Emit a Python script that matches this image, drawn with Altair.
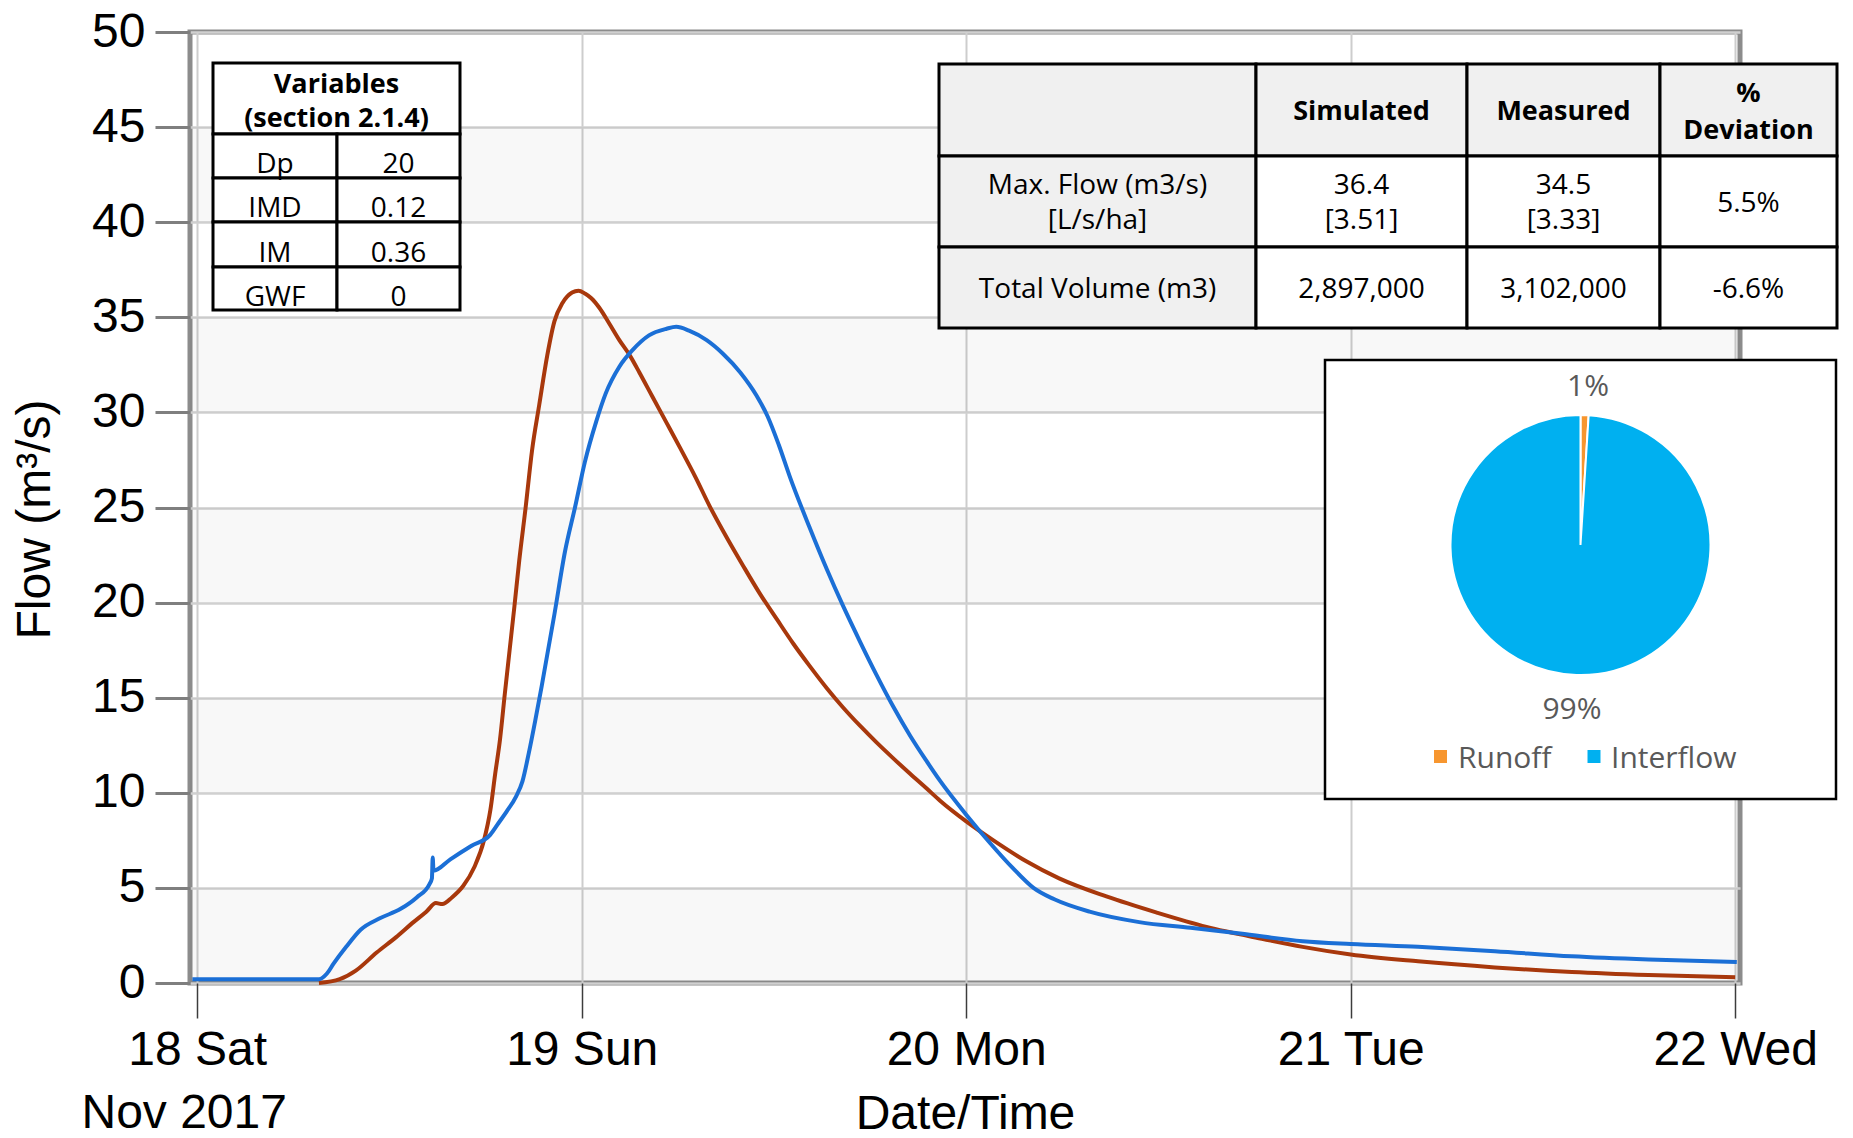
import altair as alt
import pandas as pd

# ---------------- data ----------------
# hours after 2017-11-18 00:00
sim_hours = [7.6, 8.9, 9.9, 11.2, 12.4, 13.5, 14.3, 14.9, 15.3, 15.9, 16.6, 17.3, 17.9, 18.3, 18.6,
             18.9, 19.2, 19.5, 19.8, 20.1, 20.5, 20.9, 21.35, 21.85, 22.3, 22.8, 23.4, 23.8, 24.2, 24.6,
             25.1, 25.7, 26.35, 27.0, 27.6, 28.4, 29.3, 30.1, 31.1, 32.0, 33.0, 34.1, 35.1, 36.2, 37.2,
             38.2, 39.3, 40.3, 41.4, 42.4, 43.4, 44.5, 45.5, 46.35, 48.0, 49.7, 51.75, 53.8, 56.75, 59.9,
             63.0, 66.6, 69.0, 72.0, 76.2, 81.0, 85.8, 90.6, 96.0]
sim_flow = [0.0, 0.2, 0.65, 1.6, 2.4, 3.2, 3.75, 4.2, 4.15, 4.5, 5.1, 6.1, 7.5, 9.1, 11.0,
            12.8, 15.2, 17.5, 19.8, 22.2, 25.0, 28.0, 30.4, 33.0, 34.8, 35.75, 36.3, 36.4, 36.25, 36.0,
            35.5, 34.7, 33.8, 33.0, 32.1, 30.85, 29.45, 28.2, 26.6, 25.05, 23.5, 21.9, 20.5, 19.1, 17.85,
            16.7, 15.5, 14.5, 13.5, 12.65, 11.85, 11.0, 10.25, 9.6, 8.5, 7.5, 6.4, 5.5, 4.55, 3.7,
            2.95, 2.3, 1.9, 1.5, 1.14, 0.82, 0.58, 0.42, 0.3]
meas_hours = [-0.3, 7.6, 8.1, 8.5, 9.3, 10.2, 11.4, 12.7, 13.7, 14.5, 14.65, 14.7, 14.75, 15.8, 17.1,
              18.3, 18.8, 19.3, 19.9, 20.3, 20.7, 21.1, 21.5, 22.3, 22.96, 23.58, 24.2, 24.9, 25.5, 26.35,
              27.2, 28.2, 29.3, 29.9, 30.7, 31.8, 32.8, 33.9, 34.9, 35.6, 36.3, 37.0, 38.2, 39.3, 40.3,
              41.4, 42.4, 43.4, 44.5, 45.5, 46.35, 48.0, 49.5, 50.9, 52.2, 53.5, 55.7, 58.8, 62.0, 65.1,
              69.0, 72.0, 76.2, 81.0, 85.8, 90.6, 96.1]
meas_flow = [0.2, 0.2, 0.5, 1.0, 1.9, 2.8, 3.4, 3.9, 4.5, 5.2, 5.5, 6.6, 5.9, 6.5, 7.2,
             7.8, 8.4, 9.0, 9.8, 10.6, 12.1, 13.8, 15.6, 19.4, 22.7, 25.0, 27.4, 29.5, 31.0, 32.4,
             33.3, 34.05, 34.4, 34.5, 34.3, 33.8, 33.1, 32.1, 30.9, 29.8, 28.3, 26.6, 24.0, 21.75, 19.85,
             17.9, 16.2, 14.6, 13.0, 11.7, 10.65, 8.85, 7.35, 6.05, 5.0, 4.4, 3.75, 3.2, 2.9, 2.6,
             2.2, 2.05, 1.9, 1.67, 1.4, 1.23, 1.1]

x_tick_days = [18, 19, 20, 21, 22]
y_ticks = [0, 5, 10, 15, 20, 25, 30, 35, 40, 45, 50]
band_lo = [0, 10, 20, 30, 40]
band_hi = [5, 15, 25, 35, 45]
x_sub_label = "Nov 2017"

var_header = ["Variables", "(section 2.1.4)"]
var_names = ["Dp", "IMD", "IM", "GWF"]
var_values = ["20", "0.12", "0.36", "0"]

stat_header = [["Simulated"], ["Measured"], ["%", "Deviation"]]
stat_rows = [["Max. Flow (m3/s)", "[L/s/ha]"], ["Total Volume (m3)"]]
stat_sim = [["36.4", "[3.51]"], ["2,897,000"]]
stat_meas = [["34.5", "[3.33]"], ["3,102,000"]]
stat_dev = [["5.5%"], ["-6.6%"]]

pie_cats = ["Runoff", "Interflow"]
pie_vals = [1, 99]
pie_colors = ["#f7962f", "#00b0f0"]

# ---------------- layout ----------------
W, H = 1550, 951
AX_FONT = "Liberation Sans"
TB_FONT = "Open Sans"
RED = "#a8380c"
BLUE = "#1b6fd6"

start = pd.Timestamp("2017-11-18 00:00")


def to_ts(hours):
    return [(start + pd.Timedelta(hours=h)).strftime("%Y-%m-%dT%H:%M:%S") for h in hours]


sim_df = pd.DataFrame({"time": to_ts(sim_hours), "flow": sim_flow})
meas_df = pd.DataFrame({"time": to_ts(meas_hours), "flow": meas_flow})
band_df = pd.DataFrame({"lo": band_lo, "hi": band_hi})
nov_df = pd.DataFrame({"time": to_ts([0]), "label": [x_sub_label]})

x_scale = alt.Scale(domain=[alt.DateTime(year=2017, month=11, date=17, hours=23, minutes=33),
                            alt.DateTime(year=2017, month=11, date=22, hours=0, minutes=18)])
y_scale = alt.Scale(domain=[0, 50], nice=False, zero=False)

x_axis = alt.Axis(
    values=[alt.DateTime(year=2017, month=11, date=d) for d in x_tick_days],
    labelExpr="timeFormat(datum.value, '%d %a')",
    labelFont=AX_FONT, labelFontSize=48, labelColor="black", labelPadding=8,
    labelFlush=False, labelOverlap=False,
    tickSize=35, tickColor="#3c3c3c", tickWidth=1.5, domain=False,
    grid=True, gridColor="#cdcdcd", gridWidth=2,
    title="Date/Time", titleFont=AX_FONT, titleFontSize=48, titleFontWeight="normal",
    titleColor="black", titleBaseline="alphabetic", titleY=145, titleX=W / 2,
)
y_axis = alt.Axis(
    values=y_ticks,
    labelFont=AX_FONT, labelFontSize=48, labelColor="black", labelPadding=10,
    tickSize=35, tickColor="#7f7f7f", tickWidth=3, domain=False,
    grid=True, gridColor="#d0d0d0", gridWidth=2.5,
    title="Flow (m³/s)", titleFont=AX_FONT, titleFontSize=48, titleFontWeight="normal",
    titleColor="black", titleAngle=270, titleBaseline="middle", titleX=-155, titleY=487,
)

bands = alt.Chart(band_df).mark_rect(color="black", opacity=0.028).encode(
    x=alt.value(0), x2=alt.value(W),
    y=alt.Y("lo:Q", scale=y_scale, axis=y_axis), y2="hi:Q",
)
red = alt.Chart(sim_df).mark_line(color=RED, strokeWidth=4, interpolate="monotone").encode(
    x=alt.X("time:T", scale=x_scale, axis=x_axis),
    y=alt.Y("flow:Q", scale=y_scale, axis=y_axis),
)
blue = alt.Chart(meas_df).mark_line(color=BLUE, strokeWidth=4, interpolate="monotone").encode(
    x=alt.X("time:T", scale=x_scale, axis=x_axis),
    y=alt.Y("flow:Q", scale=y_scale, axis=y_axis),
)
nov = alt.Chart(nov_df).mark_text(font=AX_FONT, fontSize=48, color="black", align="center",
                                  baseline="alphabetic", dx=-13).encode(
    x=alt.X("time:T", scale=x_scale, axis=x_axis),
    y=alt.value(H + 145),
    text="label:N",
)
main = alt.layer(bands, red, blue, nov)

# ---------------- overlays (pixel space) ----------------


def px(f):
    return alt.X(f"{f}:Q", scale=None, axis=None)


def py(f):
    return alt.Y(f"{f}:Q", scale=None, axis=None)


cells, bold_txt, reg_txt = [], [], []

# variables table
VX = [23, 147, 270]
VY = [31, 102, 146, 190, 235, 278]
cells.append(dict(x0=VX[0], x1=VX[2], y0=VY[0], y1=VY[1], fill="white"))
for i, line in enumerate(var_header):
    bold_txt.append(dict(x=(VX[0] + VX[2]) / 2, y=53 + 34 * i, text=line))
for r, (n, v) in enumerate(zip(var_names, var_values)):
    y0, y1 = VY[r + 1], VY[r + 2]
    cells.append(dict(x0=VX[0], x1=VX[1], y0=y0, y1=y1, fill="white"))
    cells.append(dict(x0=VX[1], x1=VX[2], y0=y0, y1=y1, fill="white"))
    yc = (y0 + y1) / 2 + 9
    reg_txt.append(dict(x=(VX[0] + VX[1]) / 2, y=yc, text=n))
    reg_txt.append(dict(x=(VX[1] + VX[2]) / 2, y=yc, text=v))

# statistics table
SX = [749, 1066, 1277, 1470, 1647]
SY = [32, 124, 215, 296]
GRAY = "#f0f0f0"
for r in range(3):
    for c in range(4):
        cells.append(dict(x0=SX[c], x1=SX[c + 1], y0=SY[r], y1=SY[r + 1],
                          fill=GRAY if (r == 0 or c == 0) else "white"))
LH = 35
for c, lines in enumerate(stat_header):
    xc = (SX[c + 1] + SX[c + 2]) / 2
    yc = (SY[0] + SY[1]) / 2 + 2
    for i, line in enumerate(lines):
        bold_txt.append(dict(x=xc, y=yc + (i - (len(lines) - 1) / 2) * (LH + 2), text=line))
for r in range(2):
    yc = (SY[r + 1] + SY[r + 2]) / 2 + 2
    for c, col in enumerate([stat_rows, stat_sim, stat_meas, stat_dev]):
        xc = (SX[c] + SX[c + 1]) / 2
        lines = col[r]
        for i, line in enumerate(lines):
            reg_txt.append(dict(x=xc, y=yc + (i - (len(lines) - 1) / 2) * LH, text=line))

cell_df = pd.DataFrame(cells)
table_rects = alt.Chart(cell_df).mark_rect(stroke="black", strokeWidth=3).encode(
    x=px("x0"), x2="x1", y=py("y0"), y2="y1",
    fill=alt.Fill("fill:N", scale=None),
)
bold_layer = alt.Chart(pd.DataFrame(bold_txt)).mark_text(
    font=TB_FONT, fontSize=27, fontWeight="bold", baseline="middle", align="center", color="black"
).encode(x=px("x"), y=py("y"), text="text:N")
reg_layer = alt.Chart(pd.DataFrame(reg_txt)).mark_text(
    font=TB_FONT, fontSize=28, baseline="middle", align="center", color="black"
).encode(x=px("x"), y=py("y"), text="text:N")

# pie panel
BOX = dict(x0=1135, x1=1646, y0=328, y1=767)
PCX, PCY, PR = 1390.5, 513, 130
box_layer = alt.Chart(pd.DataFrame([BOX])).mark_rect(fill="white", stroke="black", strokeWidth=2.5).encode(
    x=px("x0"), x2="x1", y=py("y0"), y2="y1")

pie_df = pd.DataFrame({"cat": pie_cats, "val": pie_vals, "ord": [0, 1]})
pie_color = alt.Color("cat:N", scale=alt.Scale(domain=pie_cats, range=pie_colors), legend=None)
pie = alt.Chart(pie_df).mark_arc(radius=PR, stroke="white", strokeWidth=2).encode(
    theta=alt.Theta("val:Q", stack=True),
    order=alt.Order("ord:Q"),
    color=pie_color,
    x=alt.value(PCX), y=alt.value(PCY),
)
pie_lbl_df = pd.DataFrame({
    "text": [f"{v}%" for v in pie_vals],
    "x": [1398, 1382],
    "y": [355, 678],
})
pie_lbl = alt.Chart(pie_lbl_df).mark_text(font=TB_FONT, fontSize=30, color="#595959",
                                          baseline="middle", align="center").encode(
    x=px("x"), y=py("y"), text="text:N")
leg_df = pd.DataFrame({"cat": pie_cats, "sx": [1250.5, 1404], "tx": [1268, 1421], "y": [724.5, 724.5]})
leg_sq = alt.Chart(leg_df).mark_square(size=169, opacity=1).encode(
    x=px("sx"), y=py("y"), color=pie_color)
leg_tx = alt.Chart(leg_df).mark_text(font=TB_FONT, fontSize=30, color="#595959",
                                     baseline="middle", align="left", dy=2).encode(
    x=px("tx"), y=py("y"), text="cat:N")

overlay = alt.layer(table_rects, bold_layer, reg_layer, box_layer, pie, pie_lbl, leg_sq, leg_tx)

chart = alt.layer(main, overlay).resolve_scale(
    x="independent", y="independent", color="independent"
).properties(
    width=W, height=H,
    padding={"left": 182, "top": 24, "right": 100, "bottom": 156},
    autosize=alt.AutoSizeParams(type="none"),
    background="white",
).configure_view(stroke="#8c8c8c", strokeWidth=5)

chart.save("out.html", embed_options={"renderer": "svg", "actions": False})
